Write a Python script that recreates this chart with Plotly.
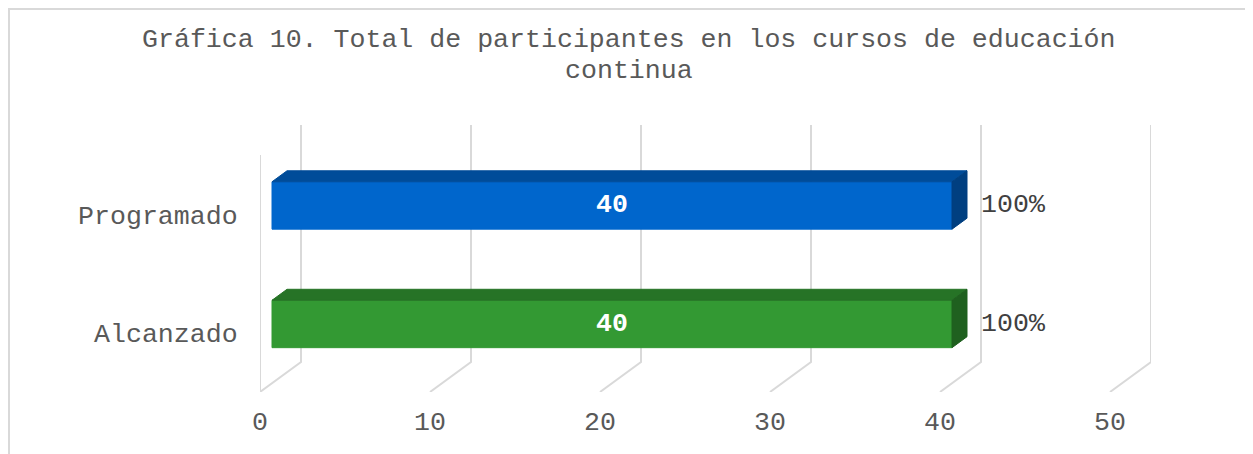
import plotly.graph_objects as go

categories = ["Alcanzado", "Programado"]
values = [40, 40]
percent_labels = ["100%", "100%"]
x_ticks = [0, 10, 20, 30, 40, 50]
title_lines = ["Gráfica 10. Total de participantes en los cursos de educación", "continua"]

FONT = "Liberation Mono"
FONT_SIZE = 26.6
GRID = "#d9d9d9"
FACE_COLORS = {
    "Programado": ("#0066cc", "#004c99", "#003f80"),
    "Alcanzado": ("#339933", "#267326", "#1f601f"),
}

# pseudo-3d depth, in axis units
DX = 41 / 17
DY = 30 / 118.5
D0, D1 = 12 / 41, 27 / 41
HALF = 0.2

fig = go.Figure()

# back wall grid + floor diagonals
gx, gy = [0, 0, None], [-0.5, 1.5, None]
for v in x_ticks:
    gx += [v + DX, v + DX, v, None]
    gy += [1.5 + DY, -0.5 + DY, -0.5, None]
fig.add_scatter(
    x=gx, y=gy, mode="lines",
    line=dict(color=GRID, width=2),
    hoverinfo="skip", showlegend=False,
)

for pos, (cat, val, pct) in enumerate(zip(categories, values, percent_labels)):
    front, top, side = FACE_COLORS[cat]
    lo, hi = pos - HALF, pos + HALF
    x0, x1 = D0 * DX, val + D0 * DX
    bx0, bx1 = D1 * DX, val + D1 * DX
    fig.add_scatter(
        x=[x0, x1, x1, x0, x0],
        y=[lo + D0 * DY, lo + D0 * DY, hi + D0 * DY, hi + D0 * DY, lo + D0 * DY],
        fill="toself", fillcolor=front, mode="lines",
        line=dict(color=front, width=1),
        hoverinfo="skip", showlegend=False,
    )
    fig.add_scatter(
        x=[x0, x1, bx1, bx0, x0],
        y=[hi + D0 * DY, hi + D0 * DY, hi + D1 * DY, hi + D1 * DY, hi + D0 * DY],
        fill="toself", fillcolor=top, mode="lines",
        line=dict(color=top, width=1),
        hoverinfo="skip", showlegend=False,
    )
    fig.add_scatter(
        x=[x1, bx1, bx1, x1, x1],
        y=[lo + D0 * DY, lo + D1 * DY, hi + D1 * DY, hi + D0 * DY, lo + D0 * DY],
        fill="toself", fillcolor=side, mode="lines",
        line=dict(color=side, width=1),
        hoverinfo="skip", showlegend=False,
    )
    fig.add_scatter(
        x=[(x0 + x1) / 2], y=[pos + D0 * DY],
        mode="text", text=[f"<b>{val}</b>"],
        textfont=dict(family=FONT, size=FONT_SIZE, color="white"),
        hoverinfo="skip", showlegend=False,
    )
    fig.add_scatter(
        x=[val + DX], y=[pos + D0 * DY],
        mode="text", text=[pct], textposition="middle right",
        textfont=dict(family=FONT, size=FONT_SIZE, color="#404040"),
        hoverinfo="skip", showlegend=False,
    )

# chart frame
fig.add_shape(
    type="rect", xref="paper", yref="paper",
    x0=-0.2817, x1=1.1122, y0=-0.3, y1=1.4345,
    line=dict(color=GRID, width=2), layer="below",
)

for text, ypos in zip(title_lines, [1.318, 1.202]):
    fig.add_annotation(
        text=text, xref="paper", yref="paper",
        x=0.414, y=ypos, xanchor="center", yanchor="middle",
        showarrow=False,
        font=dict(family=FONT, size=FONT_SIZE, color="#595959"),
    )

fig.update_layout(
    width=1245,
    height=446,
    paper_bgcolor="white",
    plot_bgcolor="white",
    margin=dict(l=252, r=102, t=117, b=62),
    xaxis=dict(
        range=[0, 50 + DX],
        tickvals=x_ticks,
        showgrid=False, zeroline=False, showline=False,
        ticks="outside", ticklen=5, tickcolor="rgba(0,0,0,0)",
        tickfont=dict(family=FONT, size=FONT_SIZE, color="#595959"),
    ),
    yaxis=dict(
        range=[-0.5, 1.5 + DY],
        tickvals=[0, 1],
        ticktext=categories,
        showgrid=False, zeroline=False, showline=False,
        ticks="outside", ticklen=16, tickcolor="rgba(0,0,0,0)",
        tickfont=dict(family=FONT, size=FONT_SIZE, color="#595959"),
    ),
)

fig.write_html("out.html")
